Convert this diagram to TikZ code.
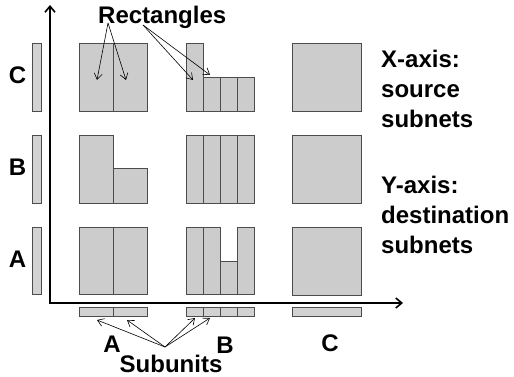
\documentclass[tikz,border=0pt]{standalone}
\usepackage{fontspec}
\setmainfont{Liberation Sans}
\newfontfamily\heavysans{Liberation Sans Bold}
\usetikzlibrary{arrows.meta}
\tikzstyle{cell}=[
        draw = black!70,
        fill = gray!40,
        line width = 0.8pt
    ]
\tikzstyle{subbar}=[
    draw = black!70,
    fill = gray!35,
    line width = 0.8pt
]
\tikzstyle{axisline}=[
    line width = 1.6pt,
    {Straight Barb[length=6pt,width=10pt]}-{Straight Barb[length=6pt,width=10pt]}
]
\tikzstyle{pointer}=[
    line width = 0.6pt,
    -{Straight Barb[length=6pt,width=8pt]}
]
\tikzstyle{bigtext}=[
    font = \heavysans\fontsize{24}{30}\selectfont,
    inner sep = 0pt
]

\begin{document}
\begin{tikzpicture}[x=1pt, y=-1pt]
        \useasboundingbox (0,0) rectangle (514,377);

        % axes
        \coordinate (origin) at (50,303);
        \coordinate (ytip) at (50,5);
        \coordinate (xtip) at (403,303);
        \draw[axisline] (ytip) -- (origin) -- (xtip);

        % column A
        \draw[cell] (79,43) rectangle (113,111);
        \draw[cell] (113,43) rectangle (147,111);
        \draw[cell] (79,135) rectangle (113,203);
        \draw[cell] (113,168) rectangle (147,203);
        \draw[cell] (79,227) rectangle (113,294);
        \draw[cell] (113,227) rectangle (147,294);

        % column B
        \draw[cell] (186,43) rectangle (203,111);
        \foreach \x in {203,220,237}
            \draw[cell] (\x,77) rectangle +(17,34);
        \foreach \x in {186,203,220,237}
            \draw[cell] (\x,135) rectangle +(17,68);
        \foreach \x in {186,203,237}
            \draw[cell] (\x,227) rectangle +(17,67);
        \draw[cell] (220,261) rectangle (237,294);

        % column C
        \foreach \y in {43,135,227}
            \draw[cell] (292,\y) rectangle +(69,68);

        % subunits on the axes
        \draw[subbar] (32,43) rectangle (41,111);
        \draw[subbar] (32,135) rectangle (41,203);
        \draw[subbar] (32,227) rectangle (41,294);
        \draw[subbar] (79,307) rectangle (113,316);
        \draw[subbar] (113,307) rectangle (147,316);
        \foreach \x in {186,203,220,237}
            \draw[subbar] (\x,307) rectangle +(17,9);
        \draw[subbar] (292,307) rectangle (361,316);

        % labels
        \node[bigtext] (yc) at (17.5,75) {C};
        \node[bigtext] (yb) at (17.5,167) {B};
        \node[bigtext] (ya) at (17.5,259) {A};
        \node[bigtext] (xa) at (112,344) {A};
        \node[bigtext] (xb) at (225,345) {B};
        \node[bigtext] (xc) at (330,343) {C};
        \node[bigtext] (subu) at (171,364) {Subunits};
        \node[bigtext, anchor=base west] (rect) at (98,24) {Rectangles};
        \node[bigtext, anchor=north west, align=left] (xlegend) at (381,50) {X-axis:\\source\\subnets};
        \node[bigtext, anchor=north west, align=left] (ylegend) at (381,176) {Y-axis:\\destination\\subnets};

        % pointers
        \coordinate (rs1) at (108,23);
        \coordinate (rs2) at (143,25);
        \coordinate (r1) at (97,80);
        \coordinate (r2) at (126,80);
        \coordinate (r3) at (193,80);
        \coordinate (r4) at (210,75);
        \draw[pointer] (rs1) -- (r1);
        \draw[pointer] (rs1) -- (r2);
        \draw[pointer] (rs2) -- (r3);
        \draw[pointer] (rs2) -- (r4);

        \coordinate (ss) at (165,347);
        \coordinate (s1) at (97,320);
        \coordinate (s2) at (127,320);
        \coordinate (s3) at (195,318);
        \coordinate (s4) at (210,318);
        \draw[pointer] (ss) -- (s1);
        \draw[pointer] (ss) -- (s2);
        \draw[pointer] (ss) -- (s3);
        \draw[pointer] (ss) -- (s4);

    \end{tikzpicture}
\end{document}
